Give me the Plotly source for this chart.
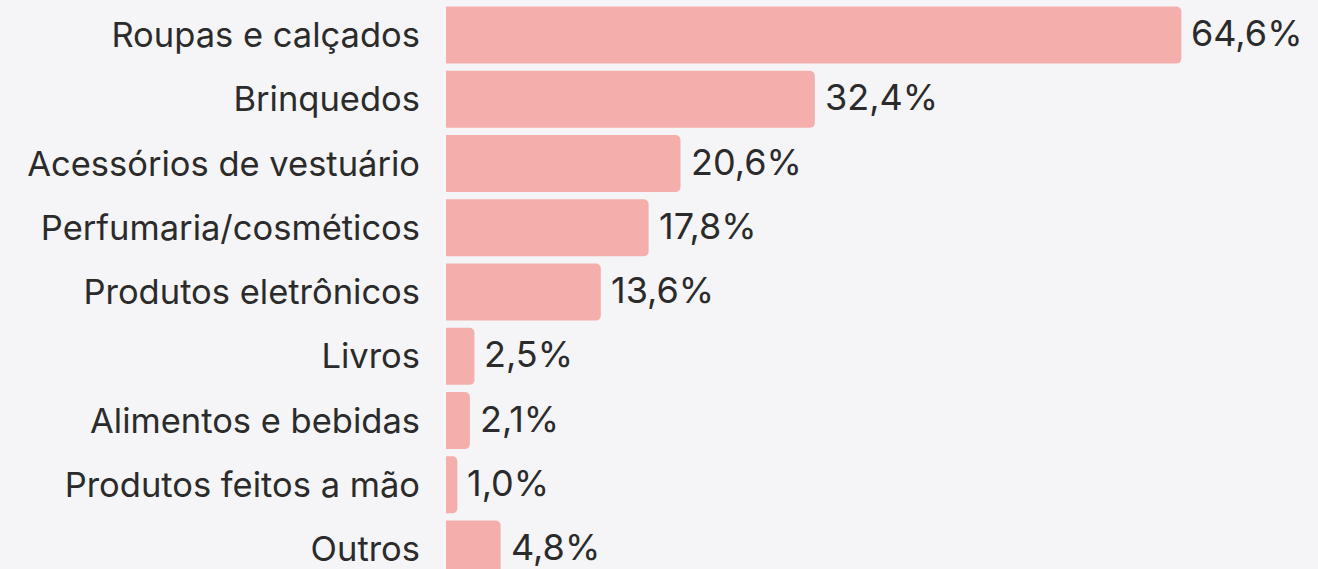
import plotly.graph_objects as go

categories = ["Roupas e calçados", "Brinquedos", "Acessórios de vestuário",
              "Perfumaria/cosméticos", "Produtos eletrônicos", "Livros",
              "Alimentos e bebidas", "Produtos feitos a mão", "Outros"]
values = [64.6, 32.4, 20.6, 17.8, 13.6, 2.5, 2.1, 1.0, 4.8]
labels = ["64,6%", "32,4%", "20,6%", "17,8%", "13,6%", "2,5%", "2,1%", "1,0%", "4,8%"]

BG = "#f5f5f7"
BAR = "#f4afac"
TXT = "#2b2b2b"

fig = go.Figure()
fig.add_trace(go.Bar(
    x=values, y=categories, orientation="h",
    marker=dict(color=BAR, line=dict(width=0)),
    width=0.89, hoverinfo="skip",
))
for c, v, l in zip(categories, values, labels):
    fig.add_annotation(x=v, y=c, text=l, showarrow=False, xanchor="left",
                       yanchor="middle", xshift=8, yshift=2,
                       font=dict(family="Inter", size=36, color=TXT))

fig.update_layout(
    width=1318, height=569,
    paper_bgcolor=BG, plot_bgcolor=BG,
    margin=dict(l=446, r=0, t=0, b=0),
    barcornerradius=5,
    showlegend=False,
    xaxis=dict(range=[0, 76.6], visible=False, fixedrange=True),
    yaxis=dict(type="category", categoryorder="array", categoryarray=categories,
               range=[8.311, -0.545], showgrid=False, zeroline=False, showline=False,
               ticks="", ticklabelstandoff=25,
               tickfont=dict(family="Inter", size=34.5, color=TXT)),
)
fig.write_html("out.html", config={"displayModeBar": False},
               post_script="document.body.style.margin='0';document.body.style.background='%s';" % BG)
